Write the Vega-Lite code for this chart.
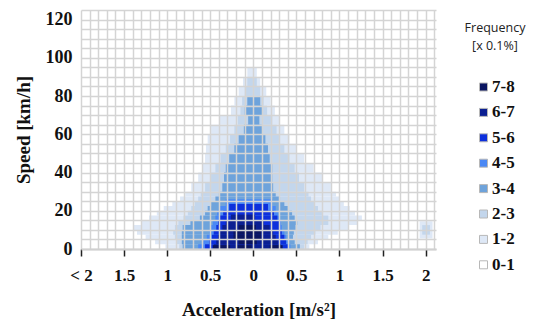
{
  "$schema": "https://vega.github.io/schema/vega-lite/v6.json",
  "width": 355,
  "height": 239,
  "autosize": {"type": "none"},
  "padding": {"left": 81, "top": 10, "right": 103, "bottom": 71},
  "background": "white",
  "config": {"view": {"stroke": null}, "font": "Liberation Serif"},
  "datasets": {
    "cells": [
      {"f": "1-2", "s0": 90, "s1": 95, "a0": -0.07, "a1": 0.04},
      {"f": "1-2", "s0": 85, "s1": 90, "a0": -0.12, "a1": 0.08},
      {"f": "1-2", "s0": 80, "s1": 85, "a0": -0.17, "a1": 0.15},
      {"f": "1-2", "s0": 75, "s1": 80, "a0": -0.22, "a1": 0.2},
      {"f": "1-2", "s0": 70, "s1": 75, "a0": -0.26, "a1": 0.25},
      {"f": "1-2", "s0": 65, "s1": 70, "a0": -0.4, "a1": 0.3},
      {"f": "1-2", "s0": 60, "s1": 65, "a0": -0.49, "a1": 0.36},
      {"f": "1-2", "s0": 55, "s1": 60, "a0": -0.53, "a1": 0.42},
      {"f": "1-2", "s0": 50, "s1": 55, "a0": -0.55, "a1": 0.5},
      {"f": "1-2", "s0": 45, "s1": 50, "a0": -0.56, "a1": 0.59},
      {"f": "1-2", "s0": 40, "s1": 45, "a0": -0.59, "a1": 0.7},
      {"f": "1-2", "s0": 35, "s1": 40, "a0": -0.64, "a1": 0.8},
      {"f": "1-2", "s0": 30, "s1": 35, "a0": -0.72, "a1": 0.9},
      {"f": "1-2", "s0": 27.5, "s1": 30, "a0": -0.79, "a1": 0.96},
      {"f": "1-2", "s0": 25, "s1": 27.5, "a0": -0.85, "a1": 1.0},
      {"f": "1-2", "s0": 22.5, "s1": 25, "a0": -0.94, "a1": 1.05},
      {"f": "1-2", "s0": 20, "s1": 22.5, "a0": -1.04, "a1": 1.12},
      {"f": "1-2", "s0": 17.5, "s1": 20, "a0": -1.12, "a1": 1.18},
      {"f": "1-2", "s0": 15, "s1": 17.5, "a0": -1.21, "a1": 1.26},
      {"f": "1-2", "s0": 12.5, "s1": 15, "a0": -1.3, "a1": 1.21},
      {"f": "1-2", "s0": 10, "s1": 12.5, "a0": -1.39, "a1": 1.1},
      {"f": "1-2", "s0": 7.5, "s1": 10, "a0": -1.35, "a1": 0.98},
      {"f": "1-2", "s0": 5, "s1": 7.5, "a0": -1.25, "a1": 0.87},
      {"f": "1-2", "s0": 2.5, "s1": 5, "a0": -1.14, "a1": 0.75},
      {"f": "1-2", "s0": 0, "s1": 2.5, "a0": -1.02, "a1": 0.65},
      {"f": "1-2", "s0": 5.5, "s1": 14.5, "a0": 1.93, "a1": 2.08},
      {"f": "2-3", "s0": 85, "s1": 90, "a0": -0.07, "a1": 0.04},
      {"f": "2-3", "s0": 80, "s1": 85, "a0": -0.1, "a1": 0.08},
      {"f": "2-3", "s0": 75, "s1": 80, "a0": -0.13, "a1": 0.12},
      {"f": "2-3", "s0": 70, "s1": 75, "a0": -0.15, "a1": 0.16},
      {"f": "2-3", "s0": 65, "s1": 70, "a0": -0.18, "a1": 0.22},
      {"f": "2-3", "s0": 60, "s1": 65, "a0": -0.22, "a1": 0.27},
      {"f": "2-3", "s0": 55, "s1": 60, "a0": -0.27, "a1": 0.31},
      {"f": "2-3", "s0": 50, "s1": 55, "a0": -0.32, "a1": 0.36},
      {"f": "2-3", "s0": 45, "s1": 50, "a0": -0.38, "a1": 0.42},
      {"f": "2-3", "s0": 40, "s1": 45, "a0": -0.44, "a1": 0.48},
      {"f": "2-3", "s0": 35, "s1": 40, "a0": -0.5, "a1": 0.53},
      {"f": "2-3", "s0": 30, "s1": 35, "a0": -0.56, "a1": 0.59},
      {"f": "2-3", "s0": 27.5, "s1": 30, "a0": -0.61, "a1": 0.64},
      {"f": "2-3", "s0": 25, "s1": 27.5, "a0": -0.64, "a1": 0.67},
      {"f": "2-3", "s0": 22.5, "s1": 25, "a0": -0.68, "a1": 0.71},
      {"f": "2-3", "s0": 20, "s1": 22.5, "a0": -0.72, "a1": 0.75},
      {"f": "2-3", "s0": 17.5, "s1": 20, "a0": -0.76, "a1": 0.8},
      {"f": "2-3", "s0": 15, "s1": 17.5, "a0": -0.81, "a1": 0.87},
      {"f": "2-3", "s0": 12.5, "s1": 15, "a0": -0.87, "a1": 0.87},
      {"f": "2-3", "s0": 10, "s1": 12.5, "a0": -0.91, "a1": 0.78},
      {"f": "2-3", "s0": 7.5, "s1": 10, "a0": -0.93, "a1": 0.72},
      {"f": "2-3", "s0": 5, "s1": 7.5, "a0": -0.91, "a1": 0.67},
      {"f": "2-3", "s0": 2.5, "s1": 5, "a0": -0.89, "a1": 0.63},
      {"f": "2-3", "s0": 0, "s1": 2.5, "a0": -0.86, "a1": 0.59},
      {"f": "2-3", "s0": 7.5, "s1": 12.5, "a0": 1.96, "a1": 2.05},
      {"f": "3-4", "s0": 75, "s1": 80, "a0": -0.07, "a1": 0.08},
      {"f": "3-4", "s0": 70, "s1": 75, "a0": -0.1, "a1": 0.1},
      {"f": "3-4", "s0": 65, "s1": 70, "a0": -0.06, "a1": 0.07},
      {"f": "3-4", "s0": 60, "s1": 65, "a0": -0.11, "a1": 0.1},
      {"f": "3-4", "s0": 55, "s1": 60, "a0": -0.17, "a1": 0.14},
      {"f": "3-4", "s0": 50, "s1": 55, "a0": -0.22, "a1": 0.17},
      {"f": "3-4", "s0": 45, "s1": 50, "a0": -0.28, "a1": 0.19},
      {"f": "3-4", "s0": 40, "s1": 45, "a0": -0.32, "a1": 0.22},
      {"f": "3-4", "s0": 35, "s1": 40, "a0": -0.34, "a1": 0.22},
      {"f": "3-4", "s0": 30, "s1": 35, "a0": -0.36, "a1": 0.23},
      {"f": "3-4", "s0": 27.5, "s1": 30, "a0": -0.4, "a1": 0.26},
      {"f": "3-4", "s0": 25, "s1": 27.5, "a0": -0.44, "a1": 0.31},
      {"f": "3-4", "s0": 22.5, "s1": 25, "a0": -0.49, "a1": 0.36},
      {"f": "3-4", "s0": 20, "s1": 22.5, "a0": -0.53, "a1": 0.4},
      {"f": "3-4", "s0": 17.5, "s1": 20, "a0": -0.56, "a1": 0.45},
      {"f": "3-4", "s0": 15, "s1": 17.5, "a0": -0.62, "a1": 0.48},
      {"f": "3-4", "s0": 12.5, "s1": 15, "a0": -0.73, "a1": 0.51},
      {"f": "3-4", "s0": 10, "s1": 12.5, "a0": -0.82, "a1": 0.49},
      {"f": "3-4", "s0": 7.5, "s1": 10, "a0": -0.83, "a1": 0.47},
      {"f": "3-4", "s0": 5, "s1": 7.5, "a0": -0.83, "a1": 0.46},
      {"f": "3-4", "s0": 2.5, "s1": 5, "a0": -0.83, "a1": 0.48},
      {"f": "3-4", "s0": 0, "s1": 2.5, "a0": -0.82, "a1": 0.54},
      {"f": "4-5", "s0": 22.5, "s1": 26, "a0": -0.32, "a1": 0.22},
      {"f": "4-5", "s0": 20, "s1": 22.5, "a0": -0.39, "a1": 0.26},
      {"f": "4-5", "s0": 17.5, "s1": 20, "a0": -0.42, "a1": 0.29},
      {"f": "4-5", "s0": 15, "s1": 17.5, "a0": -0.44, "a1": 0.3},
      {"f": "4-5", "s0": 12.5, "s1": 15, "a0": -0.47, "a1": 0.32},
      {"f": "4-5", "s0": 10, "s1": 12.5, "a0": -0.49, "a1": 0.33},
      {"f": "4-5", "s0": 7.5, "s1": 10, "a0": -0.51, "a1": 0.36},
      {"f": "4-5", "s0": 5, "s1": 7.5, "a0": -0.54, "a1": 0.38},
      {"f": "4-5", "s0": 2.5, "s1": 5, "a0": -0.58, "a1": 0.4},
      {"f": "4-5", "s0": 0, "s1": 2.5, "a0": -0.64, "a1": 0.43},
      {"f": "5-6", "s0": 20, "s1": 23.5, "a0": -0.28, "a1": 0.17},
      {"f": "5-6", "s0": 17.5, "s1": 20, "a0": -0.35, "a1": 0.24},
      {"f": "5-6", "s0": 15, "s1": 17.5, "a0": -0.39, "a1": 0.28},
      {"f": "5-6", "s0": 12.5, "s1": 15, "a0": -0.41, "a1": 0.3},
      {"f": "5-6", "s0": 10, "s1": 12.5, "a0": -0.43, "a1": 0.31},
      {"f": "5-6", "s0": 7.5, "s1": 10, "a0": -0.46, "a1": 0.33},
      {"f": "5-6", "s0": 5, "s1": 7.5, "a0": -0.48, "a1": 0.36},
      {"f": "5-6", "s0": 2.5, "s1": 5, "a0": -0.51, "a1": 0.38},
      {"f": "5-6", "s0": 0, "s1": 2.5, "a0": -0.56, "a1": 0.4},
      {"f": "6-7", "s0": 15, "s1": 18, "a0": -0.26, "a1": 0.02},
      {"f": "6-7", "s0": 12.5, "s1": 15, "a0": -0.32, "a1": 0.12},
      {"f": "6-7", "s0": 10, "s1": 12.5, "a0": -0.36, "a1": 0.19},
      {"f": "6-7", "s0": 7.5, "s1": 10, "a0": -0.39, "a1": 0.23},
      {"f": "6-7", "s0": 5, "s1": 7.5, "a0": -0.41, "a1": 0.26},
      {"f": "6-7", "s0": 2.5, "s1": 5, "a0": -0.43, "a1": 0.29},
      {"f": "6-7", "s0": 0, "s1": 2.5, "a0": -0.46, "a1": 0.32},
      {"f": "7-8", "s0": 10, "s1": 12.5, "a0": -0.17, "a1": 0.03},
      {"f": "7-8", "s0": 7.5, "s1": 10, "a0": -0.23, "a1": 0.09},
      {"f": "7-8", "s0": 5, "s1": 7.5, "a0": -0.23, "a1": 0.09},
      {"f": "7-8", "s0": 2.5, "s1": 5, "a0": -0.17, "a1": 0.04},
      {"f": "7-8", "s0": 0, "s1": 2, "a0": -0.47, "a1": -0.27},
      {"f": "7-8", "s0": 0, "s1": 2, "a0": -0.18, "a1": -0.02},
      {"f": "7-8", "s0": 0, "s1": 2, "a0": 0.19, "a1": 0.34}
    ]
  },
  "layer": [
    {
      "data": {"name": "cells"},
      "mark": {"type": "rect"},
      "encoding": {
        "x": {
          "field": "a0",
          "type": "quantitative",
          "scale": {"domain": [-2, 2.12], "nice": false, "zero": false},
          "axis": {
            "values": [-2, -1.9, -1.8, -1.7, -1.6, -1.5, -1.4, -1.3, -1.2, -1.1, -1, -0.9, -0.8, -0.7, -0.6, -0.5, -0.4, -0.3, -0.2, -0.1, 0, 0.1, 0.2, 0.3, 0.4, 0.5, 0.6, 0.7, 0.8, 0.9, 1, 1.1, 1.2, 1.3, 1.4, 1.5, 1.6, 1.7, 1.8, 1.9, 2, 2.1],
            "tickCount": 100,
            "title": "Acceleration [m/s²]",
            "titleFont": "Liberation Serif",
            "titleFontSize": 19,
            "titleFontWeight": "bold",
            "titleColor": "#111111",
            "titlePadding": 17,
            "labelFont": "Liberation Serif",
            "labelFontSize": 17,
            "labelFontWeight": "bold",
            "labelColor": "#111111",
            "labelPadding": 11,
            "labelOverlap": false,
            "labelFlush": false,
            "labelBound": false,
            "labelExpr": "datum.value <= -1.999 ? '< 2' : (abs(datum.value*2 - round(datum.value*2)) < 0.001 ? format(abs(datum.value), '~g') : '')",
            "tickSize": 7,
            "tickWidth": 1.5,
            "tickColor": "#222222",
            "tickOpacity": {"condition": {"test": "abs(datum.value*2 - round(datum.value*2)) < 0.001", "value": 1}, "value": 0},
            "grid": true,
            "gridColor": "#d4d4d4",
            "gridWidth": 1.5,
            "domainColor": "#d0d0d0",
            "domainWidth": 2,
            "zindex": 1
          }
        },
        "x2": {"field": "a1"},
        "y": {
          "field": "s0",
          "type": "quantitative",
          "scale": {"domain": [0, 125], "nice": false, "zero": true},
          "axis": {
            "values": [0, 5, 10, 15, 20, 25, 30, 35, 40, 45, 50, 55, 60, 65, 70, 75, 80, 85, 90, 95, 100, 105, 110, 115, 120, 125],
            "tickCount": 100,
            "title": "Speed [km/h]",
            "titleFont": "Liberation Serif",
            "titleFontSize": 19,
            "titleFontWeight": "bold",
            "titleColor": "#111111",
            "titlePadding": 12,
            "labelFont": "Liberation Serif",
            "labelFontSize": 18,
            "labelFontWeight": "bold",
            "labelColor": "#111111",
            "labelPadding": 9,
            "labelOverlap": false,
            "labelFlush": false,
            "labelBound": false,
            "labelExpr": "datum.value % 20 == 0 ? datum.value : ''",
            "ticks": false,
            "domain": false,
            "grid": true,
            "gridColor": "#d4d4d4",
            "gridWidth": 1.5,
            "zindex": 1
          }
        },
        "y2": {"field": "s1"},
        "color": {
          "field": "f",
          "type": "ordinal",
          "scale": {
            "domain": ["7-8", "6-7", "5-6", "4-5", "3-4", "2-3", "1-2", "0-1"],
            "range": ["#0a1560", "#0b1f92", "#0d30dc", "#4a88f5", "#6ea3db", "#c3d6ec", "#dee8f6", "#ffffff"]
          },
          "legend": {
            "title": ["Frequency", "[x 0.1%]"],
            "orient": "none",
            "legendX": 384,
            "legendY": 12,
            "titleFont": "Open Sans",
            "titleFontSize": 12.5,
            "titleFontWeight": "normal",
            "titleColor": "#222222",
            "titleAlign": "center",
            "titleAnchor": "middle",
            "titleLineHeight": 18,
            "titlePadding": 26,
            "labelFont": "Liberation Serif",
            "labelFontSize": 17,
            "labelFontWeight": "bold",
            "labelColor": "#111111",
            "labelOffset": 0,
            "symbolType": "square",
            "symbolSize": 64,
            "symbolOffset": 0,
            "symbolStrokeColor": "#b8b8b8",
            "symbolStrokeWidth": 1,
            "rowPadding": 7.4
          }
        }
      }
    },
    {
      "mark": {"type": "rule", "color": "#333333", "strokeWidth": 2},
      "encoding": {
        "x": {"datum": 2.12, "type": "quantitative"},
        "y": {"datum": 0, "type": "quantitative"},
        "y2": {"datum": 125}
      }
    },
    {
      "mark": {"type": "rule", "color": "#333333", "strokeWidth": 2.5},
      "encoding": {
        "x": {"datum": 1.32, "type": "quantitative"},
        "x2": {"datum": 2.12},
        "y": {"datum": 0, "type": "quantitative"}
      }
    }
  ]
}
